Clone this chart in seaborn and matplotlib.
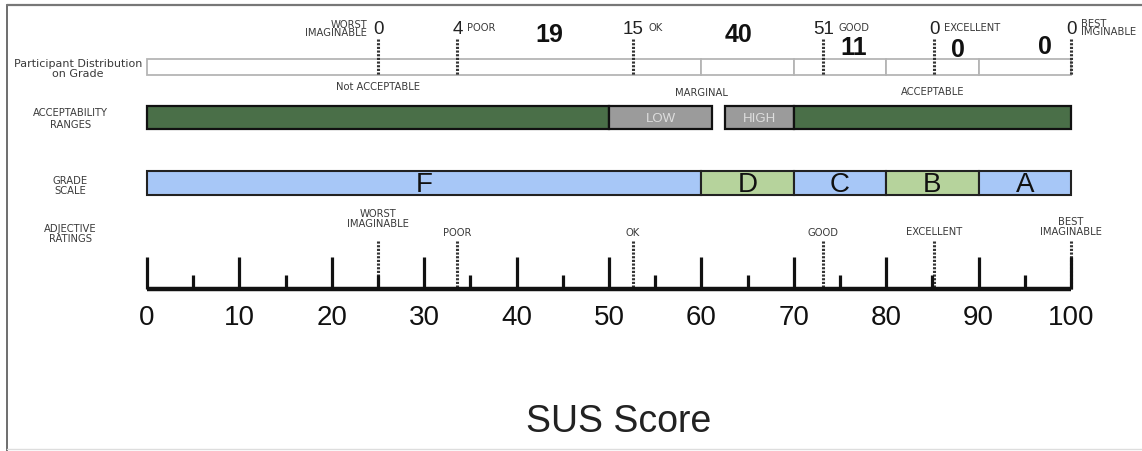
import matplotlib
matplotlib.use("Agg")
import matplotlib.pyplot as plt
from matplotlib.lines import Line2D
import seaborn as sns

# SUS scale
major_ticks = [0, 10, 20, 30, 40, 50, 60, 70, 80, 90, 100]
minor_ticks = [5, 15, 25, 35, 45, 55, 65, 75, 85, 95]

# adjective ratings: position on the SUS scale and participants per adjective
adj_names = ["WORST\nIMAGINABLE", "POOR", "OK", "GOOD", "EXCELLENT", "BEST\nIMAGINABLE"]
adj_names_top = ["WORST\nIMAGINABLE", "POOR", "OK", "GOOD", "EXCELLENT", "BEST\nIMGINABLE"]
adj_scores = [25, 33.6, 52.6, 73.2, 85.2, 100]
adj_counts = [0, 4, 15, 51, 0, 0]

# grade scale and participants per grade
grades = ["F", "D", "C", "B", "A"]
grade_lo = [0, 60, 70, 80, 90]
grade_hi = [60, 70, 80, 90, 100]
grade_counts = [19, 40, 11, 0, 0]

# acceptability ranges
acc_names = ["", "LOW", "HIGH", ""]
acc_lo = [0, 50, 62.5, 70]
acc_hi = [50, 61.2, 70, 100]
acc_groups = ["Not ACCEPTABLE", "MARGINAL", "ACCEPTABLE"]
acc_group_lo = [0, 50, 70]
acc_group_hi = [50, 70, 100]

# colours
dark_green = "#4a6f48"
mid_gray = "#9b9b9b"
light_blue = "#a7c7f7"
light_green = "#b6d39c"
txt = "#3a3a3a"

sns.set_theme(style="white")
plt.rcParams["font.family"] = ["Liberation Sans", "DejaVu Sans"]

fig = plt.figure(figsize=(11.42, 4.52), dpi=100)
ax = fig.add_axes([0, 0, 1, 1])
# x in SUS units (0 -> px 147, 100 -> px 1071), y in pixel rows
px_per_unit = 9.24
ax.set_xlim(-147 / px_per_unit, (1142 - 147) / px_per_unit)
ax.set_ylim(452, 0)
ax.axis("off")

# frame
fig.add_artist(Line2D([7 / 1142, 7 / 1142], [0, 1 - 6 / 452], color="#555555", lw=1.2))
fig.add_artist(Line2D([7 / 1142, 1], [1 - 6 / 452, 1 - 6 / 452], color="#777777", lw=1.6))
fig.add_artist(Line2D([7 / 1142, 1], [2 / 452, 2 / 452], color="#dddddd", lw=1.0))

lab_x = -8.3
small = dict(fontsize=7.2, family="DejaVu Sans", color=txt)

# ---- row 1: participant distribution ----
ax.text(-7.5, 69, "Participant Distribution\non Grade", ha="center", va="center",
        fontsize=8.0, family="DejaVu Sans", color=txt, linespacing=0.95)
ax.barh([68] * len(grades), [h - l for l, h in zip(grade_lo, grade_hi)], left=grade_lo,
        height=16, color="white", edgecolor="#b5b5b5", linewidth=1.3)
ax.vlines(adj_scores, 40, 76, colors="#333333", linestyles=(0, (0.7, 0.5)), linewidth=2.2)

for i, (s, c) in enumerate(zip(adj_scores, adj_counts)):
    label = str(c)
    ax.text(s, 30, label, ha="center", va="center", fontsize=13.5, color="#222222")
    half = len(label) * 5.2 / px_per_unit
    if i == 0:
        ax.text(s - half - 0.6, 29, adj_names_top[i], ha="right", va="center",
                linespacing=0.85, **small)
    else:
        ax.text(s + half + 0.5, 28, adj_names_top[i], ha="left", va="center",
                linespacing=0.85, **small)

count_x = [43.5, 64, 76.5, 87.8, 97.2]
count_y = [35, 35, 48, 50, 47]
for x, y, c in zip(count_x, count_y, grade_counts):
    ax.text(x, y, str(c), ha="center", va="center", fontsize=18, fontweight="bold", color="#111111")

group_y = [87, 93, 92]
for lo, hi, y, g in zip(acc_group_lo, acc_group_hi, group_y, acc_groups):
    ax.text((lo + hi) / 2, y, g, ha="center", va="center", **small)

# ---- row 2: acceptability ranges ----
ax.text(lab_x, 119, "ACCEPTABILITY\nRANGES", ha="center", va="center",
        linespacing=1.3, **small)
acc_colors = [dark_green, mid_gray, mid_gray, dark_green]
ax.barh([118.5] * len(acc_lo), [h - l for l, h in zip(acc_lo, acc_hi)], left=acc_lo,
        height=23, color=acc_colors, edgecolor="#111111", linewidth=1.6)
for lo, hi, n in zip(acc_lo, acc_hi, acc_names):
    if n:
        ax.text((lo + hi) / 2, 119, n, ha="center", va="center", fontsize=9.5, color="#dedede")

# ---- row 3: grade scale ----
ax.text(lab_x, 186, "GRADE\nSCALE", ha="center", va="center", linespacing=1.0, **small)
grade_colors = [light_blue, light_green, light_blue, light_green, light_blue]
ax.barh([184] * len(grades), [h - l for l, h in zip(grade_lo, grade_hi)], left=grade_lo,
        height=24, color=grade_colors, edgecolor="#222222", linewidth=1.5)
for lo, hi, g in zip(grade_lo, grade_hi, grades):
    ax.text((lo + hi) / 2, 185, g, ha="center", va="center", fontsize=20, color="#111111")

# ---- row 4: adjective ratings on the SUS ruler ----
ax.text(lab_x, 234, "ADJECTIVE\nRATINGS", ha="center", va="center", linespacing=1.0, **small)
ax.vlines(adj_scores, 242, 290, colors="#333333", linestyles=(0, (0.7, 0.5)), linewidth=2.2)
ax.vlines(major_ticks, 258, 290, colors="#111111", linewidth=2.3)
ax.vlines(minor_ticks, 276, 290, colors="#111111", linewidth=2.3)
ax.hlines(290, 0, 100, colors="#111111", linewidth=3.2)
adj_label_y = [219, 233, 233, 233, 232, 227]
for s, n, y in zip(adj_scores, adj_names, adj_label_y):
    ax.text(s, y, n, ha="center", va="center", linespacing=0.9, **small)

for t in major_ticks:
    ax.text(t, 318, str(t), ha="center", va="center", fontsize=20, color="#111111")

ax.text(51, 422, "SUS Score", ha="center", va="center", fontsize=27, color="#222222")

fig.savefig("out.png", dpi=100)
